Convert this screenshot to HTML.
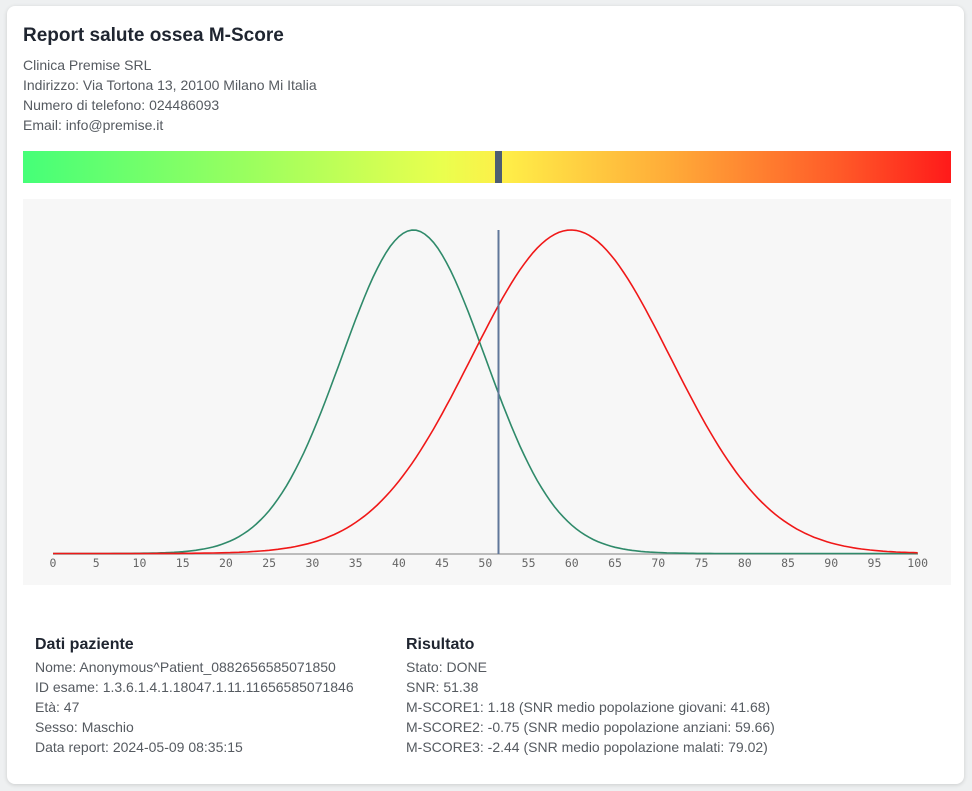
<!DOCTYPE html>
<html><head><meta charset="utf-8">
<style>
body{margin:0;width:972px;height:791px;background:#eef0f1;font-family:"Liberation Sans",sans-serif;position:relative;overflow:hidden}
.card{position:absolute;left:7px;top:6px;width:957px;height:778px;background:#fff;border-radius:8px;box-shadow:0 1px 4px rgba(0,0,0,.15)}
.t{position:absolute;white-space:nowrap;color:#555a60;font-size:14px}
h1{position:absolute;left:23px;top:25px;margin:0;font-size:19px;font-weight:bold;color:#1f2530}
h2{position:absolute;margin:0;font-size:16px;font-weight:bold;color:#1f2530}
.bar{position:absolute;left:23px;top:151px;width:928px;height:32px;background:linear-gradient(90deg,#45ff78 0%,#9dff5e 25%,#e9ff4e 45%,#ffee48 52%,#ffaa38 70%,#ff5a28 88%,#ff1a1a 100%)}
</style></head><body>
<div class="card"></div>
<h1>Report salute ossea M-Score</h1>
<div class="t" style="left:23px;top:57px">Clinica Premise SRL</div>
<div class="t" style="left:23px;top:77px">Indirizzo: Via Tortona 13, 20100 Milano Mi Italia</div>
<div class="t" style="left:23px;top:97px">Numero di telefono: 024486093</div>
<div class="t" style="left:23px;top:117px">Email: info@premise.it</div>
<div class="bar"></div>
<div style="position:absolute;left:495px;top:151px;width:7px;height:32px;background:#4d5d72"></div>
<svg style="position:absolute;left:0;top:0" width="972" height="791">
<rect x="23" y="199" width="928" height="386" fill="#f7f7f7"/>
<line x1="53" y1="554" x2="918" y2="554" stroke="#a8a8a8" stroke-width="1.5"/>
<g id="ticks" font-family="DejaVu Sans Mono, Liberation Mono, monospace" font-size="11.5" fill="#666" text-anchor="middle"></g>
<path id="g" fill="none" stroke="#2f8a6a" stroke-width="1.6"/>
<path id="r" fill="none" stroke="#f01818" stroke-width="1.6"/>
<line x1="498.5" y1="230" x2="498.5" y2="554" stroke="#60779a" stroke-width="2"/>
</svg>
<script>
function X(v){return 53+v*8.647}
function p(m,s){var d="";for(var v=0;v<=100;v+=0.5){var y=553.5-323.5*Math.exp(-(v-m)*(v-m)/(2*s*s));d+=(v?"L":"M")+X(v).toFixed(1)+" "+y.toFixed(1)}return d}
document.getElementById("g").setAttribute("d",p(41.68,8.3));
document.getElementById("r").setAttribute("d",p(59.9,11.5));
var g=document.getElementById("ticks"),h="";
for(var v=0;v<=100;v+=5)h+='<text x="'+X(v)+'" y="567">'+v+'</text>';
g.innerHTML=h;
</script>
<h2 style="left:35px;top:636px">Dati paziente</h2>
<div class="t" style="left:35px;top:659px">Nome: Anonymous^Patient_0882656585071850</div>
<div class="t" style="left:35px;top:679px">ID esame: 1.3.6.1.4.1.18047.1.11.11656585071846</div>
<div class="t" style="left:35px;top:699px">Età: 47</div>
<div class="t" style="left:35px;top:719px">Sesso: Maschio</div>
<div class="t" style="left:35px;top:739px">Data report: 2024-05-09 08:35:15</div>
<h2 style="left:406px;top:636px">Risultato</h2>
<div class="t" style="left:406px;top:659px">Stato: DONE</div>
<div class="t" style="left:406px;top:679px">SNR: 51.38</div>
<div class="t" style="left:406px;top:699px">M-SCORE1: 1.18 (SNR medio popolazione giovani: 41.68)</div>
<div class="t" style="left:406px;top:719px">M-SCORE2: -0.75 (SNR medio popolazione anziani: 59.66)</div>
<div class="t" style="left:406px;top:739px">M-SCORE3: -2.44 (SNR medio popolazione malati: 79.02)</div>
</body></html>
